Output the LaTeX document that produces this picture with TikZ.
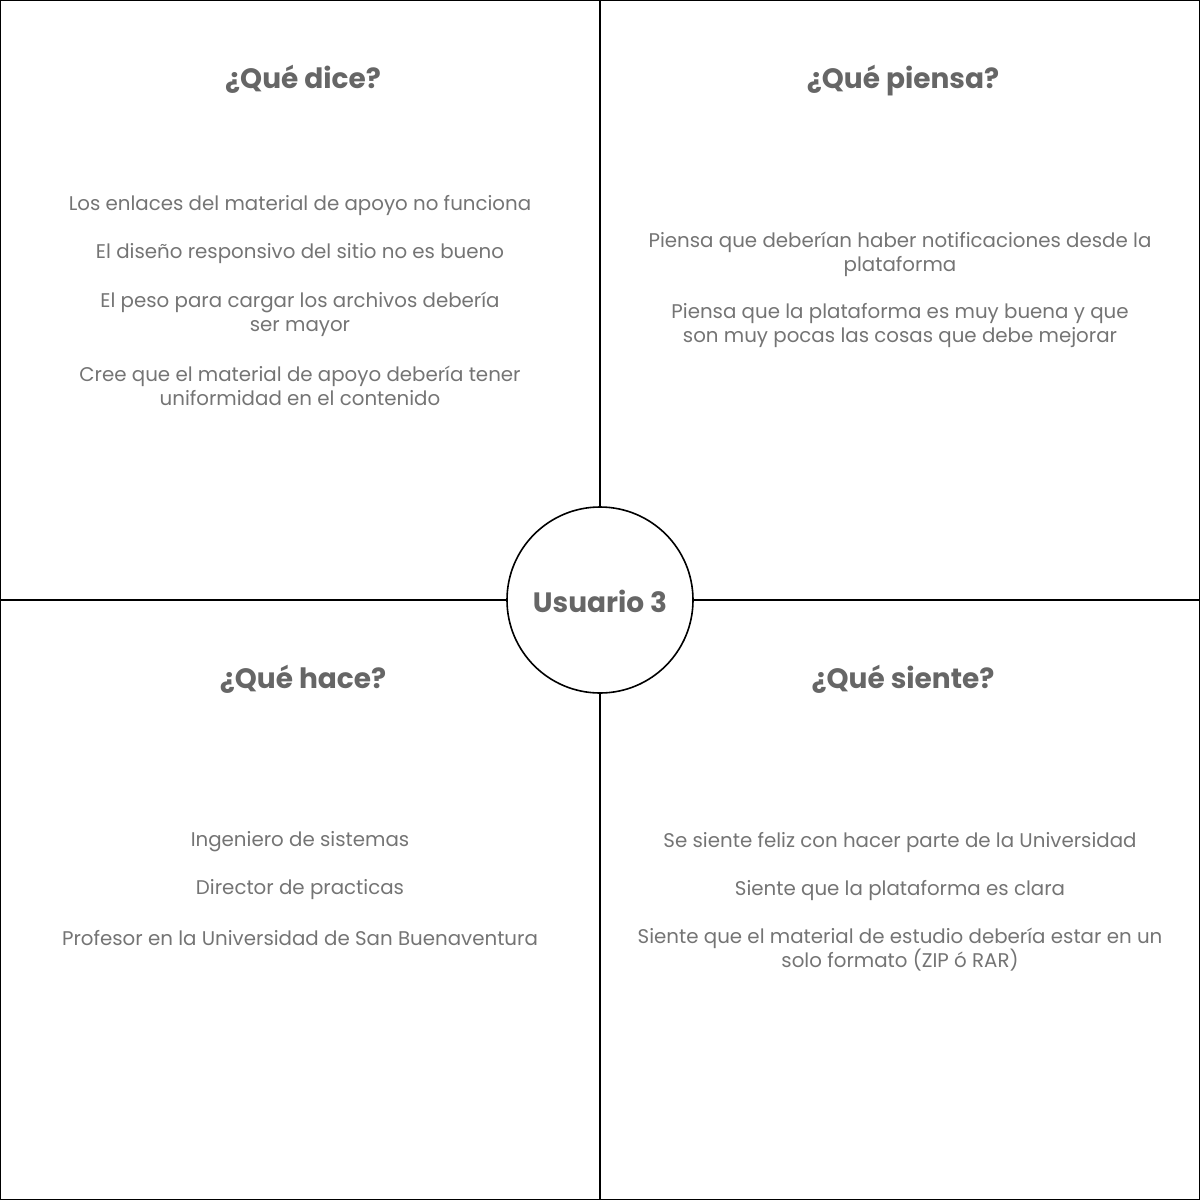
\documentclass[tikz,border=0pt]{standalone}
\usepackage{fontspec}
\setmainfont{Poppins}
\definecolor{headc}{HTML}{666666}
\definecolor{bodyc}{HTML}{747474}
\begin{document}
\begin{tikzpicture}[x=1pt,y=-1pt,
  head/.style={font=\fontsize{28}{32}\selectfont\bfseries, text=headc, inner sep=0pt, anchor=base},
  body/.style={font=\fontsize{19.8}{24}\selectfont, text=bodyc, inner sep=0pt, align=center, anchor=center},
  frame/.style={draw=black, line width=1.2pt}]
\useasboundingbox (0,0) rectangle (1200,1200);
\draw[frame] (0.6,0.6) rectangle (1199.4,1199.4);
\node[circle, draw=black, line width=1.6pt, minimum size=186pt, inner sep=0pt] (c) at (600,600) {};
\node[font=\fontsize{28}{32}\selectfont\bfseries, text=headc, inner sep=0pt] (u) at (600,601) {Usuario 3};
\coordinate (top) at (600,0);
\coordinate (bot) at (600,1200);
\coordinate (lft) at (0,600);
\coordinate (rgt) at (1200,600);
\draw[frame] (top) -- (c.north);
\draw[frame] (c.south) -- (bot);
\draw[frame] (lft) -- (c.west);
\draw[frame] (c.east) -- (rgt);
\node[head] (h1) at (303,88) {¿Qué dice?};
\node[head] (h2) at (903,88) {¿Qué piensa?};
\node[head] (h3) at (303,688) {¿Qué hace?};
\node[head] (h4) at (903,688) {¿Qué siente?};
\node[body] (a1) at (300,206) {Los enlaces del material de apoyo no funciona};
\node[body] (a2) at (300,254) {El diseño responsivo del sitio no es bueno};
\node[body] (a3) at (300,314) {El peso para cargar los archivos debería\\ser mayor};
\node[body] (a4) at (300,386) {Cree que el material de apoyo debería tener\\uniformidad en el contenido};
\node[body] (b1) at (900,254) {Piensa que deberían haber notificaciones desde la\\plataforma};
\node[body] (b2) at (900,326) {Piensa que la plataforma es muy buena y que\\son muy pocas las cosas que debe mejorar};
\node[body] (c1) at (300,842) {Ingeniero de sistemas};
\node[body] (c2) at (300,890) {Director de practicas};
\node[body] (c3) at (300,938) {Profesor en la Universidad de San Buenaventura};
\node[body] (d1) at (900,842) {Se siente feliz con hacer parte de la Universidad};
\node[body] (d2) at (900,890) {Siente que la plataforma es clara};
\node[body] (d3) at (900,950) {Siente que el material de estudio debería estar en un\\solo formato (ZIP ó RAR)};
\end{tikzpicture}
\end{document}
